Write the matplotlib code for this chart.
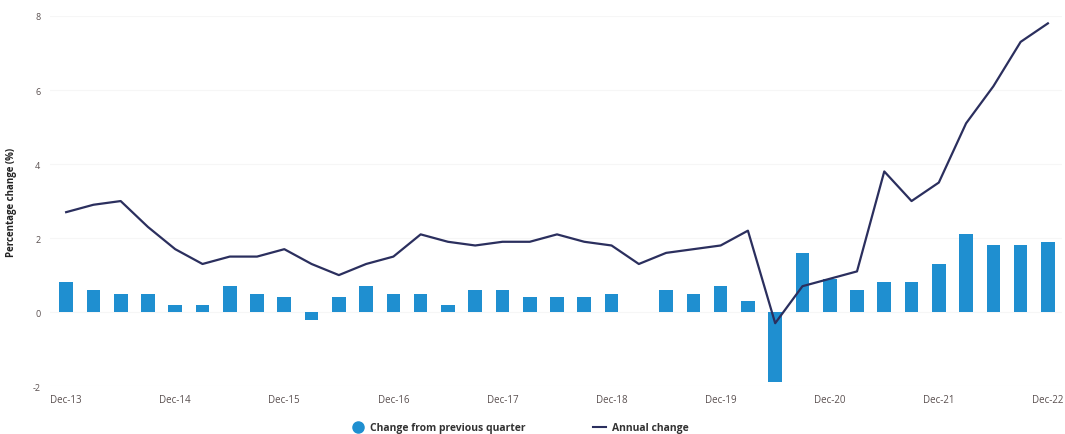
import matplotlib
matplotlib.use("Agg")
import matplotlib.pyplot as plt
from matplotlib.lines import Line2D
import numpy as np

quarters = ["Dec-13", "Mar-14", "Jun-14", "Sep-14", "Dec-14", "Mar-15", "Jun-15", "Sep-15",
            "Dec-15", "Mar-16", "Jun-16", "Sep-16", "Dec-16", "Mar-17", "Jun-17", "Sep-17",
            "Dec-17", "Mar-18", "Jun-18", "Sep-18", "Dec-18", "Mar-19", "Jun-19", "Sep-19",
            "Dec-19", "Mar-20", "Jun-20", "Sep-20", "Dec-20", "Mar-21", "Jun-21", "Sep-21",
            "Dec-21", "Mar-22", "Jun-22", "Sep-22", "Dec-22"]
quarterly_change = [0.8, 0.6, 0.5, 0.5, 0.2, 0.2, 0.7, 0.5, 0.4, -0.2, 0.4, 0.7, 0.5, 0.5, 0.2,
                    0.6, 0.6, 0.4, 0.4, 0.4, 0.5, 0.0, 0.6, 0.5, 0.7, 0.3, -1.9, 1.6, 0.9, 0.6,
                    0.8, 0.8, 1.3, 2.1, 1.8, 1.8, 1.9]
annual_change = [2.7, 2.9, 3.0, 2.3, 1.7, 1.3, 1.5, 1.5, 1.7, 1.3, 1.0, 1.3, 1.5, 2.1, 1.9,
                 1.8, 1.9, 1.9, 2.1, 1.9, 1.8, 1.3, 1.6, 1.7, 1.8, 2.2, -0.3, 0.7, 0.9, 1.1,
                 3.8, 3.0, 3.5, 5.1, 6.1, 7.3, 7.8]
y_ticks = [-2, 0, 2, 4, 6, 8]

bar_color = "#1f8fd0"
line_color = "#2b2f5e"
text_color = "#5a5050"

plt.rcParams['font.family'] = ['Open Sans', 'DejaVu Sans']

fig = plt.figure(figsize=(10.65, 4.35), dpi=100)
ax = fig.add_axes([0.047, 0.110, 0.950, 0.851])

x = np.arange(len(quarters))
ax.bar(x, quarterly_change, width=0.5, color=bar_color, zorder=2)
ax.plot(x, annual_change, color=line_color, linewidth=1.6, zorder=3)

ax.set_xlim(-0.59, 36.51)
ax.set_ylim(-2, 8)
ax.set_yticks(y_ticks)
ax.set_yticklabels([str(v) for v in y_ticks], fontsize=6.5, color=text_color)
tick_idx = [i for i, q in enumerate(quarters) if q.startswith("Dec")]
ax.set_xticks(tick_idx)
ax.set_xticklabels([quarters[i] for i in tick_idx], fontsize=7, color=text_color)
ax.tick_params(axis='both', length=0)
ax.tick_params(axis='y', pad=7)
ax.tick_params(axis='x', pad=6)
for s in ax.spines.values():
    s.set_visible(False)
ax.yaxis.grid(True, color="#f6f6f6", linewidth=0.8, zorder=0)
ax.set_axisbelow(True)
ax.set_ylabel("Percentage change (%)", fontsize=7, color="#222222", labelpad=11,
              fontweight='bold')

handles = [
    Line2D([0], [0], marker='o', linestyle='None', markersize=8, markerfacecolor=bar_color,
           markeredgecolor=bar_color, label="Change from previous quarter"),
    Line2D([0], [0], color=line_color, linewidth=1.5, label="Annual change"),
]
leg = fig.legend(handles=handles, loc='lower center', bbox_to_anchor=(0.488, -0.02), ncol=2,
                 frameon=False, fontsize=7.5, handlelength=1.3, columnspacing=6.5,
                 handletextpad=0.5, labelcolor="#333333")
for t in leg.get_texts():
    t.set_fontweight('bold')

fig.savefig("out.png", dpi=100, facecolor="white")
